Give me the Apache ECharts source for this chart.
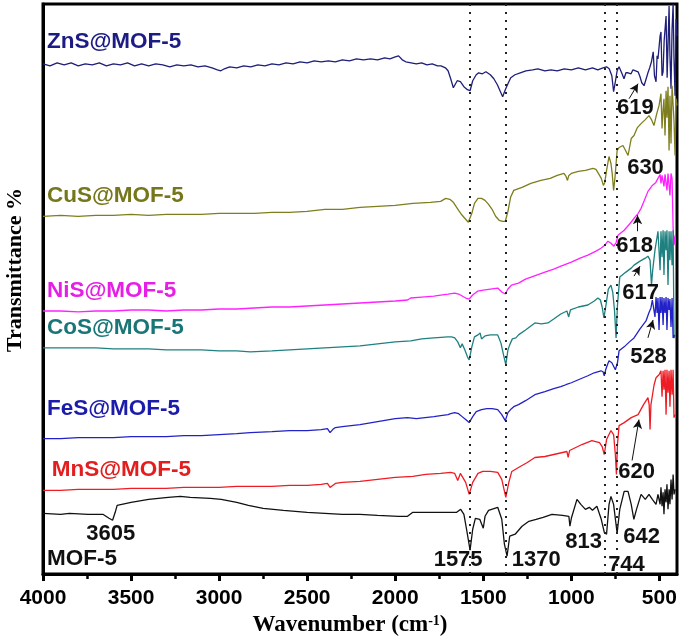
<!DOCTYPE html>
<html><head><meta charset="utf-8">
<script src="https://cdn.jsdelivr.net/npm/echarts@6.0.0/dist/echarts.min.js"></script>
<style>html,body{margin:0;padding:0;background:#fff}#c{width:685px;height:642px}</style>
</head><body><div id="c"></div>
<script>
// ---- axis ticks ----
const xTicks = [500,1000,1500,2000,2500,3000,3500,4000];
const xMinorTicks = [750,1250,1750,2250,2750,3250,3750];
const guideLines = [1575,1370,813,744];

// ---- series (wavenumber cm-1, transmittance a.u. stacked offsets) ----
const seriesNames = ['ZnS@MOF-5','CuS@MOF-5','NiS@MOF-5','CoS@MOF-5','FeS@MOF-5','MnS@MOF-5','MOF-5'];

const znsData = [[4000,512],[3960,510],[3920,513],[3880,511],[3840,513],[3800,510],[3760,512],[3720,511],[3680,513],[3640,510],[3600,512],[3560,511],[3520,513],[3480,510],[3440,512],[3400,510],[3360,512],[3320,511],[3280,509],[3240,511],[3200,510],[3160,511],[3120,509],[3080,510],[3040,508],[3010,506],[2990,505],[2970,507],[2940,509],[2900,508],[2860,510],[2820,509],[2780,511],[2740,510],[2700,512],[2660,511],[2620,513],[2580,512],[2540,514],[2500,513],[2460,515],[2420,514],[2380,515],[2340,514],[2300,516],[2260,515],[2220,517],[2180,516],[2140,517],[2100,516],[2060,518],[2030,517],[2000,519],[1981,520],[1960,516],[1940,514],[1910,513],[1880,512],[1850,513],[1820,511],[1790,512],[1760,510],[1740,510],[1715,508],[1700,505],[1685,497],[1670,488],[1660,490],[1648,495],[1630,494],[1610,489],[1590,486],[1575,485],[1560,495],[1540,501],[1526,503],[1505,502],[1485,504],[1460,501],[1440,497],[1420,491],[1400,483],[1390,479],[1375,486],[1360,492],[1344,498],[1320,501],[1290,503],[1258,505],[1220,506],[1190,507],[1150,505],[1116,506],[1080,505],[1040,507],[1000,506],[960,508],[920,506],[880,508],[850,506],[820,508],[800,509],[785,507],[770,500],[760,484],[752,492],[740,505],[729,509],[712,502],[701,497],[690,503],[678,503],[661,502],[650,506],[639,505],[621,504],[610,499],[600,493],[587,490],[575,497],[565,503],[555,508],[545,514],[535,524],[528,500],[519,494],[513,520],[508,517],[496,540],[491,544],[485,500],[479,504],[473,535],[468,537],[462,560],[456,498],[451,500],[445,570],[440,520],[434,487],[428,547],[422,572],[417,517],[411,480],[405,557],[400,540]];

const cusData = [[4000,359],[3900,360],[3800,359],[3700,360],[3600,360],[3500,361],[3400,360],[3300,361],[3200,361],[3100,361],[3000,362],[2900,362],[2800,362],[2700,363],[2600,363],[2500,364],[2400,366],[2300,366],[2200,368],[2100,369],[2000,370],[1900,372],[1800,373],[1742,374],[1713,377],[1690,376],[1670,373],[1655,369],[1640,365],[1620,360],[1600,356],[1585,353],[1575,354],[1565,362],[1550,372],[1530,377],[1510,377],[1490,375],[1470,371],[1450,366],[1430,359],[1410,355],[1390,354],[1375,354],[1360,364],[1345,378],[1327,385],[1280,388],[1230,392],[1173,395],[1120,397],[1080,400],[1042,402],[1030,399],[1022,395],[1014,400],[1000,402],[960,404],[920,405],[877,407],[860,406],[843,401],[830,397],[818,390],[810,393],[800,405],[786,419],[775,412],[768,402],[760,385],[752,398],[740,425],[729,428],[718,429],[707,430],[695,426],[678,420],[660,437],[644,440],[625,448],[604,452],[580,456],[559,460],[545,456],[531,450],[515,462],[502,470],[491,482],[485,447],[479,466],[474,477],[468,440],[462,485],[457,458],[451,489],[445,425],[440,480],[434,432],[428,490],[422,489],[417,455],[411,420],[405,477],[400,470]];

const nisData = [[4000,264],[3900,264],[3800,263],[3700,264],[3600,264],[3500,265],[3400,265],[3300,264],[3200,265],[3100,265],[3000,266],[2900,266],[2800,267],[2700,268],[2600,268],[2500,269],[2400,270],[2300,271],[2200,272],[2100,273],[2000,274],[1930,275],[1912,277],[1850,278],[1780,279],[1742,280],[1700,281],[1662,282],[1640,281],[1620,279],[1600,277],[1580,276],[1560,280],[1531,284],[1500,285],[1460,286],[1418,287],[1395,283],[1375,281],[1360,286],[1340,290],[1300,292],[1260,296],[1213,299],[1150,303],[1100,306],[1059,309],[1000,313],[950,317],[906,320],[860,324],[832,327],[810,330],[792,334],[775,332],[758,329],[745,333],[735,340],[700,345],[670,351],[644,357],[620,362],[604,367],[585,375],[565,384],[540,390],[520,393],[508,397],[496,401],[491,392],[485,400],[479,402],[474,389],[468,401],[462,403],[457,385],[451,402],[445,404],[440,380],[434,402],[428,397],[422,347],[417,330],[410,340]];

const cosData = [[4000,227],[3900,227],[3800,227],[3700,227],[3600,226],[3500,226],[3400,226],[3300,225],[3200,225],[3100,225],[3000,224],[2900,224],[2823,223],[2700,224],[2600,225],[2500,226],[2400,227],[2300,228],[2200,229],[2100,231],[2000,233],[1912,234],[1850,236],[1780,237],[1702,238],[1680,238],[1662,237],[1645,233],[1630,227],[1620,231],[1605,225],[1590,218],[1580,215],[1565,228],[1550,238],[1530,240],[1518,242],[1510,236],[1503,235],[1490,239],[1460,240],[1418,240],[1400,232],[1385,220],[1372,210],[1360,225],[1350,230],[1335,236],[1315,237],[1300,240],[1260,245],[1207,252],[1170,251],[1133,252],[1100,256],[1060,261],[1025,264],[1015,258],[1005,265],[960,268],[906,270],[870,274],[849,277],[835,275],[825,268],[815,257],[805,268],[790,286],[775,290],[765,283],[755,265],[746,237],[738,270],[725,298],[718,300],[690,303],[660,307],[644,310],[610,314],[580,317],[565,319],[553,315],[545,290],[538,305],[525,325],[508,344],[502,345],[496,305],[491,344],[485,318],[479,345],[474,300],[468,344],[462,325],[457,345],[451,290],[445,344],[440,315],[434,344],[428,310],[422,345],[417,237],[410,240]];

const fesData = [[4000,136],[3900,136],[3800,137],[3700,137],[3600,137],[3500,138],[3400,138],[3300,138],[3200,139],[3100,139],[3000,140],[2900,141],[2823,142],[2700,143],[2600,144],[2500,144],[2420,145],[2385,146],[2370,142],[2355,145],[2340,147],[2300,148],[2200,150],[2100,153],[2000,156],[1930,157],[1880,156],[1830,157],[1780,158],[1742,159],[1700,160],[1685,161],[1662,162],[1640,161],[1620,158],[1600,155],[1580,152],[1560,158],[1540,163],[1510,165],[1480,166],[1450,166],[1418,165],[1395,160],[1375,154],[1360,162],[1340,166],[1327,168],[1300,170],[1260,174],[1207,180],[1150,183],[1100,186],[1060,188],[1031,190],[1000,192],[960,195],[906,199],[870,202],[832,204],[820,203],[813,199],[805,205],[795,210],[786,214],[770,212],[760,210],[750,205],[744,204],[738,212],[729,224],[700,228],[670,233],[644,237],[610,246],[576,254],[560,262],[548,267],[540,275],[531,276],[525,258],[519,278],[513,262],[508,277],[502,245],[496,278],[491,262],[485,278],[479,250],[474,277],[468,262],[462,278],[457,245],[451,277],[445,265],[440,276],[434,248],[428,277],[422,237],[415,240]];

const mnsData = [[4000,84],[3900,84],[3800,85],[3700,85],[3600,85],[3500,86],[3400,86],[3300,86],[3200,87],[3100,87],[3000,87],[2900,88],[2823,88],[2700,88],[2600,89],[2500,89],[2420,90],[2385,91],[2370,87],[2355,89],[2340,91],[2300,92],[2200,93],[2100,95],[2000,97],[1900,98],[1827,100],[1742,101],[1685,102],[1662,101],[1645,94],[1630,101],[1620,100],[1600,92],[1580,80],[1560,92],[1530,101],[1503,103],[1460,103],[1418,102],[1395,95],[1372,77],[1355,92],[1338,103],[1300,107],[1250,112],[1207,117],[1150,118],[1100,120],[1025,123],[1018,117],[1010,124],[940,130],[883,134],[840,132],[825,128],[813,120],[800,135],[775,144],[760,140],[750,120],[744,100],[738,130],[729,149],[700,152],[660,157],[621,160],[590,170],[565,177],[558,170],[553,145],[548,170],[530,190],[519,197],[502,200],[491,204],[485,178],[479,204],[474,185],[468,205],[462,160],[457,205],[451,182],[445,204],[440,168],[434,205],[428,180],[422,205],[417,157],[410,160]];

const mofData = [[4000,61],[3900,60],[3850,61],[3744,60],[3660,60],[3625,56],[3605,54],[3590,62],[3579,69],[3500,72],[3400,75],[3289,77],[3220,78],[3164,77],[3050,76],[2988,75],[2900,72],[2834,69],[2750,66],[2635,64],[2500,62],[2400,61],[2300,60],[2200,60],[2100,59],[1981,58],[1930,58],[1900,62],[1878,62],[1800,62],[1750,62],[1700,62],[1651,62],[1628,65],[1610,60],[1595,45],[1575,24],[1560,45],[1545,56],[1520,55],[1500,46],[1490,58],[1470,64],[1418,67],[1395,55],[1380,30],[1365,18],[1350,38],[1319,40],[1280,48],[1241,53],[1200,55],[1160,57],[1110,60],[1050,59],[1014,58],[1008,48],[1000,56],[968,75],[946,70],[920,65],[898,67],[880,64],[855,68],[830,55],[813,42],[800,40],[786,70],[775,78],[760,70],[740,41],[725,65],[700,83],[678,83],[660,70],[645,55],[630,65],[604,80],[580,75],[559,80],[540,75],[519,70],[508,80],[496,70],[491,87],[485,68],[479,82],[474,60],[468,85],[462,72],[457,90],[451,65],[445,85],[440,70],[434,95],[428,75],[422,100],[417,80],[410,85]];

const allSeries = [znsData, cusData, nisData, cosData, fesData, mnsData, mofData];

// ---- annotations ----
const peakLabels = ['619','630','618','617','528','620','3605','1575','1370','813','642','744'];
const peakLabelAt = [[633,467],[576,407],[638,329],[604,282],[559,217],[627,102],[3613,40],[1640,14],[1196,14],[928,32],[598,37],[684,9]];
const peakArrows = [[[672,477],[621,492]],[[624,344],[624,360]],[[644,299],[610,309]],[[565,237],[536,255]],[[655,114],[616,155]]];
const nameLabelAt = [[3975,534],[3975,379],[3975,284],[3975,247],[3975,165],[3948,104],[3975,15]];

// ---- styles ----
const lineColors = ['#1e1e78','#7e7e1e','#ff22ff','#1f8080','#2222c8','#ee1c24','#111111'];
const labelColors = ['#1c1c84','#76761a','#e61ee6','#1a7676','#1c1caa','#e41e1e','#111111'];

const chart = echarts.init(document.getElementById('c'));
const series = allSeries.map((d, i) => ({
  name: seriesNames[i], type: 'line', data: d, showSymbol: false, symbol: 'none',
  lineStyle: { color: lineColors[i], width: 1.3 }, z: 3, animation: false
}));
function txt(color, align, size) {
  return { show: true, position: [0, 0], align: align, verticalAlign: 'middle', opacity: 1,
    textBorderWidth: 0, color: color, fontSize: size, fontWeight: 'bold', fontFamily: 'Liberation Sans' };
}
series.push({
  type: 'scatter', name: 'labels', z: 10, symbolSize: 1, itemStyle: { color: '#ffffff', opacity: 1 },
  silent: true, animation: false,
  data: seriesNames.map((n, i) => ({ value: nameLabelAt[i], name: n,
    label: Object.assign(txt(labelColors[i], 'left', 22.5), { formatter: n }) }))
    .concat(peakLabels.map((t, i) => ({ value: peakLabelAt[i], name: t,
    label: Object.assign(txt('#111111', 'center', 22), { formatter: t }) }))),
  markLine: {
    silent: true, animation: false, symbol: ['none', 'arrow'], symbolSize: [7, 9],
    label: { show: false },
    lineStyle: { color: '#111', width: 1, type: 'solid' },
    data: peakArrows.map(a => [{ coord: a[0] }, { coord: a[1] }])
  }
});
series.push({
  type: 'line', name: 'guides', data: [], z: 2, animation: false,
  markLine: {
    silent: true, animation: false, symbol: ['none', 'none'], label: { show: false },
    lineStyle: { color: '#222', width: 2, type: [2, 6] },
    data: guideLines.map(v => ({ xAxis: v }))
  }
});

chart.setOption({
  animation: false,
  backgroundColor: '#fff',
  grid: { left: 43, right: 8, top: 4, bottom: 65, show: true, borderColor: '#000', borderWidth: 3 },
  xAxis: [{
    type: 'value', min: 400, max: 4000, inverse: true, position: 'bottom',
    axisLine: { show: true, lineStyle: { color: '#000', width: 3 } },
    axisTick: { show: true, customValues: xTicks, length: 7, lineStyle: { color: '#000', width: 3 } },
    axisLabel: { show: true, customValues: xTicks, formatter: v => String(v), margin: 14, color: '#000', fontSize: 21, fontWeight: 'bold', fontFamily: 'Liberation Sans' },
    splitLine: { show: false },
    name: 'Wavenumber (cm{sup|-1})', nameLocation: 'middle', nameGap: 36,
    nameTextStyle: { color: '#000', fontFamily: 'Liberation Serif', fontWeight: 'bold', fontSize: 23, padding: [0, 20, 0, 0],
      rich: { sup: { fontFamily: 'Liberation Serif', fontWeight: 'bold', fontSize: 14, verticalAlign: 'top', color: '#000' } } }
  }, {
    type: 'value', min: 400, max: 4000, inverse: true, position: 'bottom',
    axisLine: { show: false },
    axisTick: { show: true, customValues: xMinorTicks, length: 5, lineStyle: { color: '#000', width: 2.5 } },
    axisLabel: { show: false }, splitLine: { show: false }
  }],
  yAxis: {
    type: 'value', min: 0, max: 572,
    axisLine: { show: true, lineStyle: { color: '#000', width: 3 } },
    axisTick: { show: false }, axisLabel: { show: false }, splitLine: { show: false }
  },
  graphic: [{
    type: 'text', x: 15, y: 270, rotation: Math.PI / 2,
    style: { text: 'Transmittance %', font: 'bold 22px "Liberation Serif"', fill: '#000', align: 'center', verticalAlign: 'middle' }
  }],
  series: series
});
</script>
</body></html>
